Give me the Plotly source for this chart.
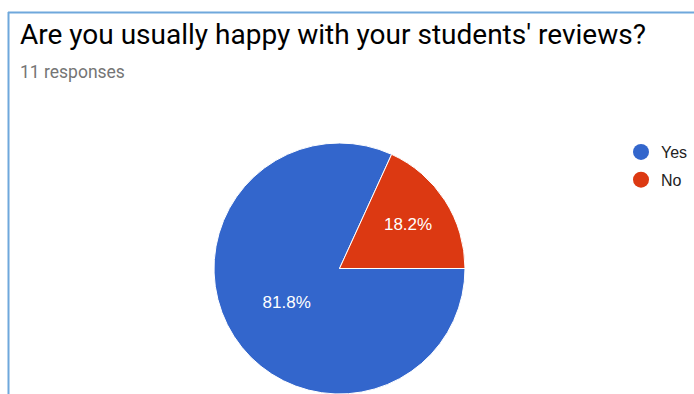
import plotly.graph_objects as go

categories = ["Yes", "No"]
counts = [9, 2]
colors = ["#3366cc", "#dc3912"]
title_text = "Are you usually happy with your students' reviews?"
subtitle_text = "11 responses"

W, H = 694, 394

fig = go.Figure()
fig.add_trace(go.Pie(
    labels=categories,
    values=counts,
    marker=dict(colors=colors, line=dict(color="white", width=1)),
    sort=False,
    direction="clockwise",
    rotation=90,
    textinfo="percent",
    texttemplate="%{percent:.1%}",
    textposition="inside",
    insidetextorientation="horizontal",
    textfont=dict(family="Arial, Liberation Sans", size=17, color="white"),
    domain=dict(x=[214 / W, 465 / W], y=[0, 251 / H]),
    showlegend=False,
    hoverinfo="label+percent",
))

for cat, col in zip(categories, colors):
    fig.add_trace(go.Scatter(
        x=[None], y=[None], mode="markers", name=cat,
        marker=dict(symbol="circle", size=16, color=col),
        legendgroup=cat, showlegend=True,
    ))

fig.update_layout(
    width=W, height=H,
    margin=dict(l=0, r=0, t=0, b=0),
    paper_bgcolor="white", plot_bgcolor="white",
    xaxis=dict(visible=False), yaxis=dict(visible=False),
    showlegend=True,
    legend=dict(
        x=621 / W, y=1 - 135 / H, xanchor="left", yanchor="top",
        font=dict(family="Arial, Liberation Sans", size=16, color="#222222"),
        traceorder="grouped", tracegroupgap=4,
        bgcolor="rgba(0,0,0,0)", itemwidth=30,
    ),
    shapes=[
        dict(type="line", xref="paper", yref="paper",
             x0=8.5 / W, x1=8.5 / W, y0=1 - 12 / H, y1=0,
             line=dict(color="#6fa8dc", width=2)),
        dict(type="line", xref="paper", yref="paper",
             x0=8 / W, x1=1, y0=1 - 12.5 / H, y1=1 - 12.5 / H,
             line=dict(color="#6fa8dc", width=2)),
    ],
    annotations=[
        dict(text=title_text, xref="paper", yref="paper",
             x=18 / W, y=1 - 15.5 / H, xanchor="left", yanchor="top",
             showarrow=False,
             font=dict(family="Roboto", size=28, color="#000000")),
        dict(text=subtitle_text, xref="paper", yref="paper",
             x=18 / W, y=1 - 60 / H, xanchor="left", yanchor="top",
             showarrow=False,
             font=dict(family="Roboto", size=17.5, color="#757575")),
    ],
)

fig.write_html("out.html", config={"displayModeBar": False},
               post_script="document.body.style.margin='0';")
